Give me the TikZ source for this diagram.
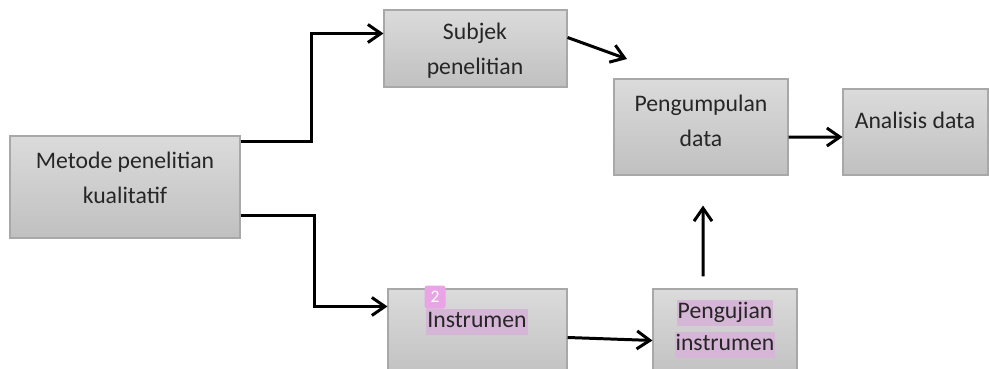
\documentclass[tikz,border=0pt]{standalone}
\usepackage{fontspec}
\setmainfont{Carlito}
\usetikzlibrary{arrows.meta,calc}

\definecolor{boxtop}{RGB}{219,219,219}
\definecolor{boxbot}{RGB}{192,192,192}
\definecolor{boxrule}{RGB}{168,168,168}
\definecolor{marker}{RGB}{214,182,214}
\definecolor{badge}{RGB}{232,164,228}

\newcommand{\marktxt}[1]{{\setlength{\fboxsep}{0.6pt}\colorbox{marker}{\rule[-0.27em]{0pt}{1.02em}#1}}}

\tikzset{
  box/.style={draw=boxrule, line width=0.6pt, top color=boxtop, bottom color=boxbot, inner sep=0pt},
  lbl/.style={align=center, font=\fontsize{13.5}{19.9}\selectfont, text=black!85},
  conn/.style={line width=1.7pt, -{Straight Barb[length=2.6mm,width=3.6mm]}},
}

\begin{document}
\begin{tikzpicture}[x=0.2mm,y=-0.2mm]
    \clip (0,0) rectangle (989,368);

    % Boxes
    \node[box, minimum width=46mm, minimum height=20.4mm] (meth) at (125,187) {};
    \node[box, minimum width=36.6mm, minimum height=15.4mm] (subj) at (475.5,48.5) {};
    \node[box, minimum width=34.8mm, minimum height=19.2mm] (pengum) at (701,127) {};
    \node[box, minimum width=29mm, minimum height=17.2mm] (anal) at (915.5,132) {};
    \node[box, minimum width=35.8mm, minimum height=18.2mm] (instr) at (477.5,334.5) {};
    \node[box, minimum width=28.8mm, minimum height=18.2mm] (penguj) at (725,334.5) {};

    % Box texts
    \node[lbl] (methtxt) at (125,177.5) {Metode penelitian\\kualitatif};
    \node[lbl] (subjtxt) at (475,50.5) {Subjek\\penelitian};
    \node[lbl] (pengumtxt) at (701,120.5) {Pengumpulan\\data};
    \node[lbl] (analtxt) at (915,120) {Analisis data};
    \node[lbl] (instrtxt) at (477,322) {\marktxt{Instrumen}};
    \node[lbl, font=\fontsize{13.5}{18.2}\selectfont] (pengujtxt) at (725,329) {\marktxt{Pengujian}\\\marktxt{instrumen}};

    % Comment badge
    \node[fill=badge, rounded corners=1.5pt, minimum width=4.2mm, minimum height=4.6mm,
          inner sep=0pt, text=white, font=\fontsize{10}{12}\selectfont] (note) at (435,297) {2};

    % Connectors
    \coordinate (subjtip) at (627,59);
    \draw[conn] ([yshift=-1.2mm]meth.north east) -- ++(71,0) |- ([yshift=-4.8mm]subj.north west);
    \draw[conn] ([yshift=4.6mm]meth.south east) -- ++(74,0) |- ([yshift=-3.6mm]instr.north west);
    \draw[conn] ([yshift=-5.6mm]subj.north east) -- (subjtip);
    \draw[conn] ([yshift=-2mm]pengum.east) -- ([yshift=-1mm]anal.west);
    \draw[conn] ([xshift=-4.4mm,yshift=2.4mm]penguj.north) -- ([xshift=0.4mm,yshift=-6mm]pengum.south);
    \draw[conn] ([yshift=-9.8mm]instr.north east) -- ([yshift=-10.4mm]penguj.north west);
\end{tikzpicture}
\end{document}
